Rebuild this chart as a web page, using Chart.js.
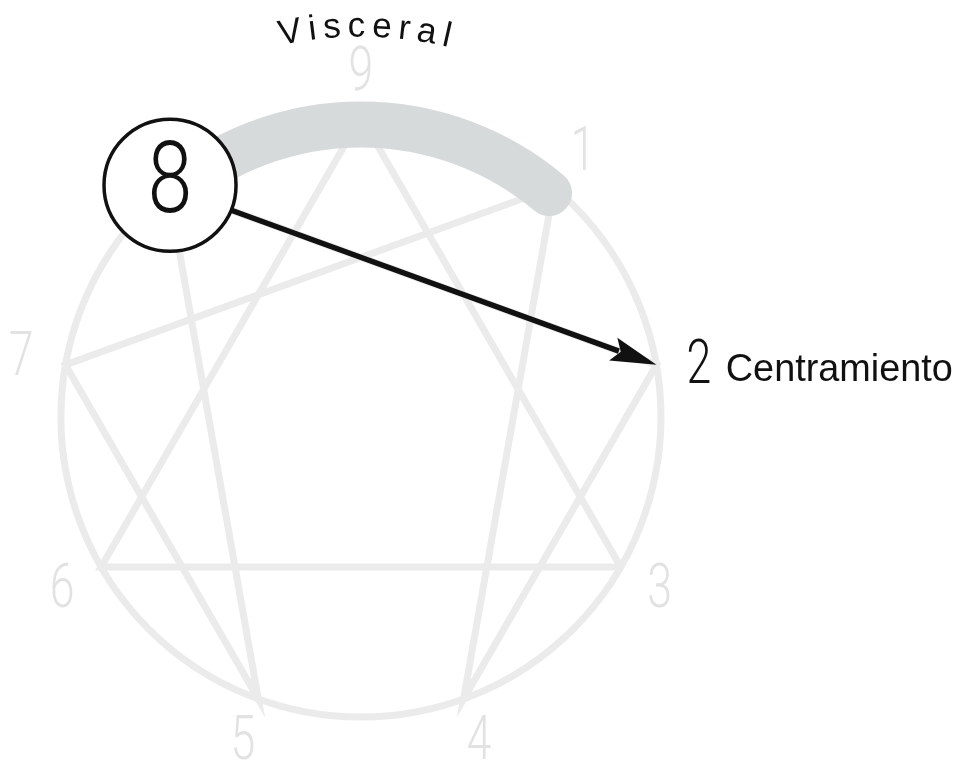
<!DOCTYPE html>
<html>
<head>
<meta charset="utf-8">
<script src="https://cdn.jsdelivr.net/npm/chart.js@4.4.1/dist/chart.umd.min.js"></script>
<style>
  html, body { margin: 0; padding: 0; background: #fff; }
  #wrap { width: 961px; height: 769px; position: relative; }
</style>
</head>
<body>
<div id="wrap"><canvas id="chart"></canvas></div>
<script>
// enneagram points (unit circle)
const pointLabels = ["9", "1", "2", "3", "4", "5", "6", "7", "8"];
const pointX = [0, 0.643, 0.985, 0.866, 0.342, -0.342, -0.866, -0.985, -0.643];
const pointY = [1, 0.766, 0.174, -0.5, -0.94, -0.94, -0.5, 0.174, 0.766];
const hexadPath = ["1", "4", "2", "8", "5", "7", "1"];
const trianglePath = ["3", "6", "9", "3"];
const highlightFrom = "8", highlightTo = "1";
const arrowFrom = "8", arrowTo = "2";
const arcTitle = "Visceral";
const targetText = "Centramiento";

const pt = (l) => { const i = pointLabels.indexOf(l); return { x: pointX[i], y: pointY[i] }; };
const angOf = (l) => { const p = pt(l); return Math.atan2(p.y, p.x); };

const LINE = "#ebebeb";
const NUM = "#e2e2e2";

const enneaPlugin = {
  id: "ennea",
  beforeDatasetsDraw(chart) {
    const { ctx, scales: { x, y } } = chart;
    const cx = x.getPixelForValue(0), cy = y.getPixelForValue(0);
    const r = x.getPixelForValue(1) - cx;
    ctx.save();
    ctx.strokeStyle = LINE;
    ctx.lineWidth = 7;
    ctx.beginPath();
    ctx.arc(cx, cy, r, 0, Math.PI * 2);
    ctx.stroke();
    ctx.restore();
  },
  afterDatasetsDraw(chart) {
    const { ctx, scales: { x, y } } = chart;
    const cx = x.getPixelForValue(0), cy = y.getPixelForValue(0);
    const u = x.getPixelForValue(1) - cx;
    const px = (p) => ({ x: x.getPixelForValue(p.x), y: y.getPixelForValue(p.y) });
    ctx.save();

    // highlighted arc 8 -> 1
    ctx.strokeStyle = "#d6dada";
    ctx.lineWidth = 46;
    ctx.lineCap = "round";
    ctx.beginPath();
    ctx.arc(cx, cy, u * 0.975, -angOf(highlightFrom), -angOf(highlightTo));
    ctx.stroke();

    // arrow 8 -> 2
    const a = px(pt(arrowFrom)), b = px(pt(arrowTo));
    const dx = b.x - a.x, dy = b.y - a.y, len = Math.hypot(dx, dy);
    const ux = dx / len, uy = dy / len;
    const headLen = 46, headW = 12;
    ctx.strokeStyle = "#111";
    ctx.lineCap = "butt";
    ctx.lineWidth = 5.5;
    ctx.beginPath();
    ctx.moveTo(a.x, a.y);
    ctx.lineTo(b.x - ux * (headLen - 6), b.y - uy * (headLen - 6));
    ctx.stroke();
    ctx.fillStyle = "#111";
    ctx.beginPath();
    ctx.moveTo(b.x, b.y);
    ctx.lineTo(b.x - ux * headLen - uy * headW, b.y - uy * headLen + ux * headW);
    ctx.lineTo(b.x - ux * (headLen - 8), b.y - uy * (headLen - 8));
    ctx.lineTo(b.x - ux * headLen + uy * headW, b.y - uy * headLen - ux * headW);
    ctx.closePath();
    ctx.fill();

    // circled 8
    const c8 = px(pt(arrowFrom));
    ctx.fillStyle = "#fff";
    ctx.strokeStyle = "#111";
    ctx.lineWidth = 3.5;
    ctx.beginPath();
    ctx.arc(c8.x + 2, c8.y - 2, 0.22 * u, 0, Math.PI * 2);
    ctx.fill();
    ctx.stroke();

    const digit = (txt, p, size, color, weight, sx) => {
      ctx.save();
      ctx.translate(p.x, p.y);
      ctx.scale(sx || 0.72, 1);
      ctx.font = (weight || 300) + " " + size + "px Roboto";
      ctx.fillStyle = color;
      ctx.textAlign = "center";
      ctx.textBaseline = "middle";
      ctx.fillText(txt, 0, 2);
      ctx.restore();
    };
    digit(arrowFrom, { x: c8.x + 2, y: c8.y - 2 }, 100, "#111", 300, 0.8);

    // number labels
    pointLabels.forEach((l, i) => {
      if (l === arrowFrom) return;
      const p = px({ x: pointX[i] * 1.15, y: pointY[i] * 1.15 });
      if (l === arrowTo) {
        const q = { x: p.x - 2, y: b.y + 1 };
        digit(l, q, 62, "#111", 300);
        ctx.font = "39px 'Liberation Sans'";
        ctx.fillStyle = "#111";
        ctx.textAlign = "left";
        ctx.textBaseline = "middle";
        ctx.save();
        ctx.translate(q.x + 27, q.y + 4);
        ctx.scale(0.97, 1);
        ctx.fillText(targetText, 0, 0);
        ctx.restore();
      } else {
        digit(l, p, 62, NUM);
      }
    });

    // curved title
    ctx.font = "35px 'Liberation Sans'";
    ctx.fillStyle = "#111";
    ctx.textAlign = "center";
    ctx.textBaseline = "middle";
    const R = 1.3 * u, spacing = 7;
    const widths = [...arcTitle].map(ch => ctx.measureText(ch).width);
    const total = widths.reduce((s, w) => s + w, 0) + spacing * (widths.length - 1);
    let s = -total / 2;
    [...arcTitle].forEach((ch, i) => {
      const mid = s + widths[i] / 2;
      const ang = Math.PI / 2 - 0.01 - mid / R;
      ctx.save();
      ctx.translate(cx + R * Math.cos(ang), cy - R * Math.sin(ang));
      ctx.rotate(Math.PI / 2 - ang);
      ctx.fillText(ch, 0, 0);
      ctx.restore();
      s += widths[i] + spacing;
    });

    ctx.restore();
  }
};

const pathData = (labels) => labels.map(pt);

new Chart(document.getElementById("chart"), {
  type: "scatter",
  data: {
    datasets: [
      { data: pathData(hexadPath), showLine: true, borderColor: LINE, borderWidth: 7, pointRadius: 0, tension: 0 },
      { data: pathData(trianglePath), showLine: true, borderColor: LINE, borderWidth: 7, pointRadius: 0, tension: 0 },
    ],
  },
  options: {
    responsive: true,
    maintainAspectRatio: false,
    animation: false,
    events: [],
    layout: { padding: 0 },
    plugins: { legend: { display: false }, tooltip: { enabled: false } },
    scales: {
      x: { type: "linear", display: false, min: -1.203, max: 2.0 },
      y: { type: "linear", display: false, min: -1.173, max: 1.39 },
    },
  },
  plugins: [enneaPlugin],
});
</script>
</body>
</html>
